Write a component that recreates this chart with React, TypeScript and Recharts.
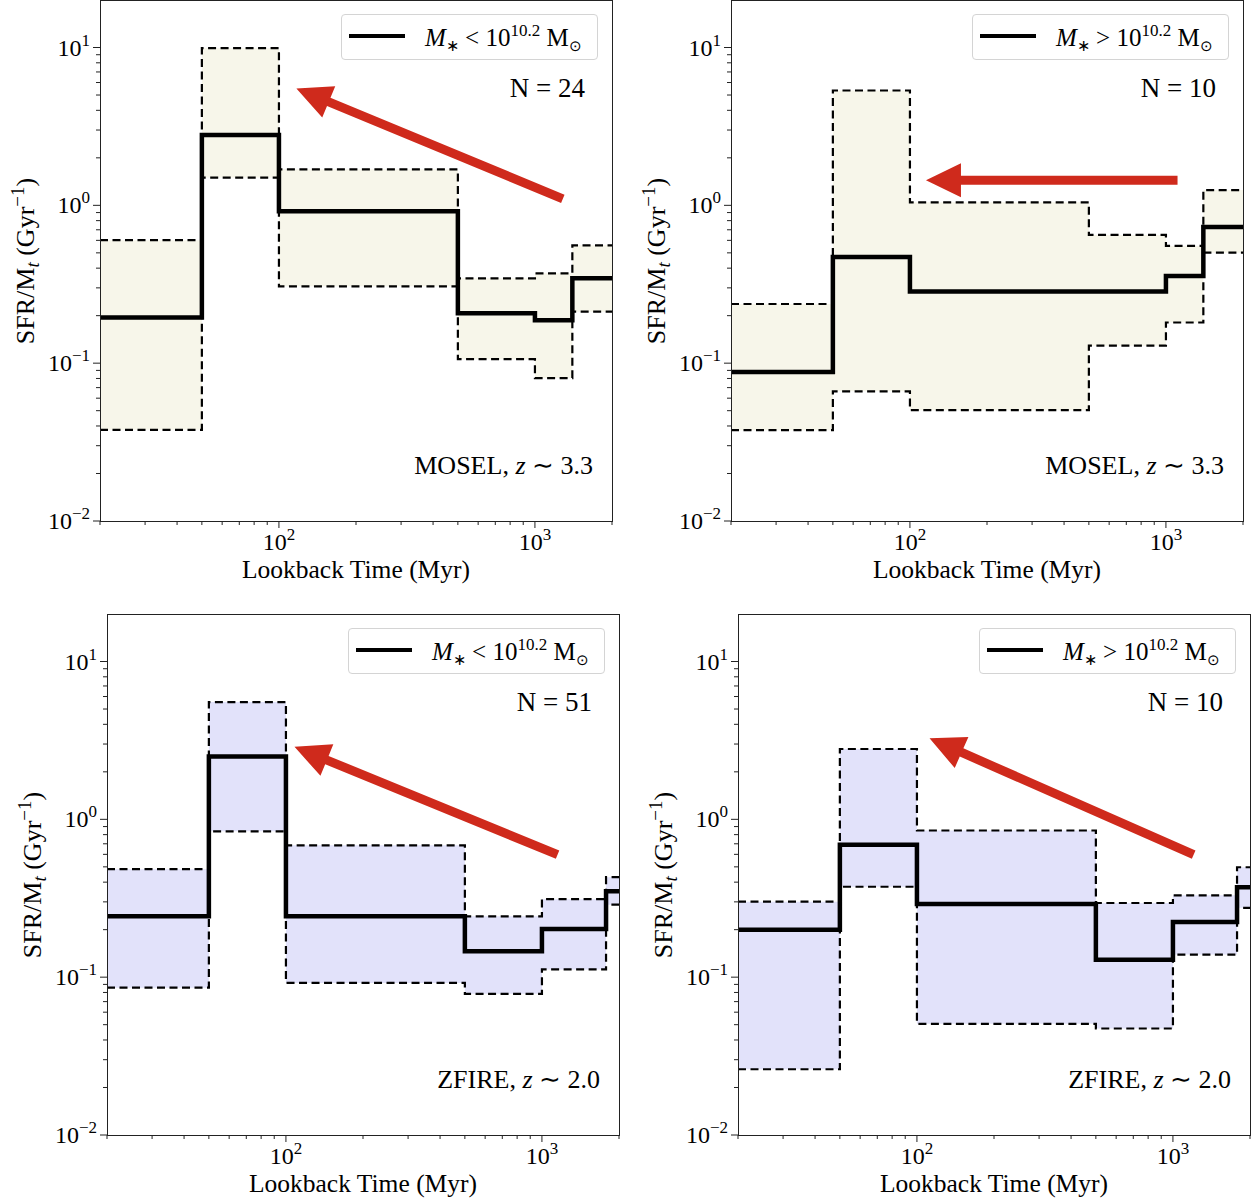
import React from 'react';
import { ComposedChart, Area, Line, XAxis, YAxis, ReferenceLine } from 'recharts';

const FONT = "'Liberation Serif', 'Times New Roman', serif";
const AXIS = '#222';
const RED = '#cf2a1c';

// lookback-time bin edges (Myr)
const moselEdges = [20, 50, 100, 500, 1000, 1400, 2000];
const zfireEdges = [20, 50, 100, 500, 1000, 1780, 2000];

// SFR/M_t per bin (Gyr^-1): median, 16th and 84th percentile
const moselLowMed = [0.195, 2.79, 0.916, 0.207, 0.187, 0.345];
const moselLowHi = [0.602, 9.9, 1.69, 0.345, 0.371, 0.558];
const moselLowLo = [0.0378, 1.5, 0.307, 0.106, 0.0804, 0.212];

const moselHighMed = [0.088, 0.471, 0.284, 0.284, 0.357, 0.729];
const moselHighHi = [0.237, 5.34, 1.045, 0.649, 0.553, 1.25];
const moselHighLo = [0.0376, 0.0663, 0.0504, 0.129, 0.181, 0.501];

const zfireLowMed = [0.243, 2.5, 0.243, 0.146, 0.202, 0.35];
const zfireLowHi = [0.483, 5.53, 0.684, 0.243, 0.312, 0.43];
const zfireLowLo = [0.0858, 0.84, 0.092, 0.0784, 0.112, 0.288];

const zfireHighMed = [0.2, 0.69, 0.291, 0.129, 0.224, 0.371];
const zfireHighHi = [0.301, 2.79, 0.85, 0.295, 0.33, 0.497];
const zfireHighLo = [0.0261, 0.374, 0.0506, 0.0473, 0.139, 0.275];

// arrow annotations [time, SFR/M_t]
const arrowTails = [[1285, 1.1], [1110, 1.44], [1151, 0.598], [1205, 0.598]];
const arrowTips = [[117, 5.5], [115.5, 1.44], [108, 2.88], [112, 3.26]];

const sampleSizes = [24, 10, 51, 10];

const xTicks = [20, 30, 40, 50, 60, 70, 80, 90, 100, 200, 300, 400, 500, 600, 700, 800, 900, 1000, 2000];
const yTicks = [
  0.01, 0.02, 0.03, 0.04, 0.05, 0.06, 0.07, 0.08, 0.09,
  0.1, 0.2, 0.3, 0.4, 0.5, 0.6, 0.7, 0.8, 0.9,
  1, 2, 3, 4, 5, 6, 7, 8, 9, 10,
];
const xTickExp: Record<string, string> = { '100': '2', '1000': '3' };
const yTickExp: Record<string, string> = { '0.01': '−2', '0.1': '−1', '1': '0', '10': '1' };

const buildRows = (edges: number[], med: number[], lo: number[], hi: number[]) =>
  edges.map((t, i) => {
    const k = Math.min(i, med.length - 1);
    return { t, med: med[k], lo: lo[k], hi: hi[k], band: [lo[k], hi[k]] };
  });

const XTick = ({ x, y, payload }: any) => {
  const exp = xTickExp[String(payload.value)];
  return (
    <g>
      <line x1={x} y1={y} x2={x} y2={y + (exp ? 7 : 4)} stroke={AXIS} strokeWidth={1} />
      {exp && (
        <text x={x} y={y + 29} textAnchor="middle" fontFamily={FONT} fontSize={24} fill="#000">
          10<tspan dy={-10} fontSize={17}>{exp}</tspan>
        </text>
      )}
    </g>
  );
};

const YTick = ({ x, y, payload }: any) => {
  const exp = yTickExp[String(payload.value)];
  return (
    <g>
      <line x1={x - (exp ? 7 : 4)} y1={y} x2={x} y2={y} stroke={AXIS} strokeWidth={1} />
      {exp && (
        <text x={x - 10} y={y + 8} textAnchor="end" fontFamily={FONT} fontSize={24} fill="#000">
          10<tspan dy={-10} fontSize={17}>{exp}</tspan>
        </text>
      )}
    </g>
  );
};

const ArrowShape = (p: any) => {
  const { x1, y1, x2, y2 } = p;
  const dx = x2 - x1;
  const dy = y2 - y1;
  const len = Math.hypot(dx, dy) || 1;
  const ux = dx / len;
  const uy = dy / len;
  const nx = -uy;
  const ny = ux;
  const sw = 4.5;
  const hw = 17;
  const hl = 35;
  const bx = x2 - ux * hl;
  const by = y2 - uy * hl;
  const pts = [
    [x1 + nx * sw, y1 + ny * sw],
    [bx + nx * sw, by + ny * sw],
    [bx + nx * hw, by + ny * hw],
    [x2, y2],
    [bx - nx * hw, by - ny * hw],
    [bx - nx * sw, by - ny * sw],
    [x1 - nx * sw, y1 - ny * sw],
  ];
  return <polygon points={pts.map((q) => q.join(',')).join(' ')} fill={RED} />;
};

const panels = [
  { left: 0, top: 0, edges: moselEdges, med: moselLowMed, lo: moselLowLo, hi: moselLowHi, fill: '#f7f6ea', cmp: '<', survey: 'MOSEL', z: '3.3' },
  { left: 631, top: 0, edges: moselEdges, med: moselHighMed, lo: moselHighLo, hi: moselHighHi, fill: '#f7f6ea', cmp: '>', survey: 'MOSEL', z: '3.3' },
  { left: 7, top: 614, edges: zfireEdges, med: zfireLowMed, lo: zfireLowLo, hi: zfireLowHi, fill: '#e2e2fa', cmp: '<', survey: 'ZFIRE', z: '2.0' },
  { left: 638, top: 614, edges: zfireEdges, med: zfireHighMed, lo: zfireHighLo, hi: zfireHighHi, fill: '#e2e2fa', cmp: '>', survey: 'ZFIRE', z: '2.0' },
];

const textStyle: React.CSSProperties = {
  position: 'absolute',
  fontFamily: FONT,
  color: '#000',
  whiteSpace: 'nowrap',
  lineHeight: 1,
};

function Panel({ spec, idx }: { spec: (typeof panels)[number]; idx: number }) {
  const rows = buildRows(spec.edges, spec.med, spec.lo, spec.hi);
  const tail = arrowTails[idx];
  const tip = arrowTips[idx];
  return (
    <div style={{ position: 'absolute', left: spec.left, top: spec.top, width: 620, height: 600 }}>
      <ComposedChart width={620} height={600} data={rows} margin={{ top: 0, right: 8, bottom: 0, left: 0 }}>
        <XAxis
          dataKey="t"
          type="number"
          scale="log"
          domain={[20, 2000]}
          allowDataOverflow
          ticks={xTicks}
          interval={0}
          tick={<XTick />}
          tickLine={false}
          tickSize={0}
          tickMargin={0}
          axisLine={false}
          height={79}
        />
        <YAxis
          type="number"
          scale="log"
          domain={[0.01, 20]}
          allowDataOverflow
          ticks={yTicks}
          interval={0}
          tick={<YTick />}
          tickLine={false}
          tickSize={0}
          tickMargin={0}
          axisLine={false}
          width={100}
        />
        <Area
          dataKey="band"
          type="stepAfter"
          fill={spec.fill}
          fillOpacity={1}
          stroke="none"
          isAnimationActive={false}
        />
        <Line dataKey="hi" type="stepAfter" stroke="#000" strokeWidth={2.2} strokeDasharray="8 4.5" dot={false} isAnimationActive={false} />
        <Line dataKey="lo" type="stepAfter" stroke="#000" strokeWidth={2.2} strokeDasharray="8 4.5" dot={false} isAnimationActive={false} />
        <Line dataKey="med" type="stepAfter" stroke="#000" strokeWidth={4.5} dot={false} isAnimationActive={false} />
        <ReferenceLine
          segment={[{ x: tail[0], y: tail[1] }, { x: tip[0], y: tip[1] }]}
          shape={ArrowShape}
          ifOverflow="visible"
        />
      </ComposedChart>

      {/* frame */}
      <div
        style={{
          position: 'absolute',
          left: 100,
          top: 0,
          width: 513,
          height: 522,
          boxSizing: 'border-box',
          border: `1px solid ${AXIS}`,
          pointerEvents: 'none',
        }}
      />

      {/* legend */}
      <div
        style={{
          position: 'absolute',
          left: 341,
          top: 14,
          width: 257,
          height: 46,
          boxSizing: 'border-box',
          border: '1px solid #d4d4d4',
          borderRadius: 4,
          background: 'rgba(255,255,255,0.8)',
        }}
      >
        <div style={{ position: 'absolute', left: 7, top: 19, width: 56, height: 4, background: '#000' }} />
        <div style={{ ...textStyle, left: 83, top: 22, fontSize: 25, transform: 'translateY(-50%)' }}>
          <i>M</i>
          <span style={{ fontSize: 16, position: 'relative', top: 5 }}>∗</span> {spec.cmp === '<' ? '<' : '>'} 10
          <span style={{ fontSize: 17, position: 'relative', top: -10 }}>10.2</span> M
          <span style={{ fontSize: 15, position: 'relative', top: 5 }}>⊙</span>
        </div>
      </div>

      <div style={{ ...textStyle, right: 35, top: 88, fontSize: 27, transform: 'translateY(-50%)' }}>
        N = {sampleSizes[idx]}
      </div>

      <div style={{ ...textStyle, right: 27, top: 466, fontSize: 26, transform: 'translateY(-50%)' }}>
        {spec.survey}, <i>z</i> ∼ {spec.z}
      </div>

      {/* axis labels */}
      <div style={{ ...textStyle, left: 356, top: 570, fontSize: 25.5, transform: 'translate(-50%, -50%)' }}>
        Lookback Time (Myr)
      </div>
      <div
        style={{
          ...textStyle,
          left: 26,
          top: 261,
          fontSize: 26,
          transform: 'translate(-50%, -50%) rotate(-90deg)',
        }}
      >
        SFR/M<span style={{ fontSize: 19, fontStyle: 'italic', position: 'relative', top: 5 }}>t</span> (Gyr
        <span style={{ fontSize: 19, position: 'relative', top: -10 }}>−1</span>)
      </div>
    </div>
  );
}

export default function App() {
  return (
    <div style={{ position: 'absolute', left: 0, top: 0, width: 1253, height: 1200, background: '#fff' }}>
      {panels.map((p, i) => (
        <Panel key={i} spec={p} idx={i} />
      ))}
    </div>
  );
}
